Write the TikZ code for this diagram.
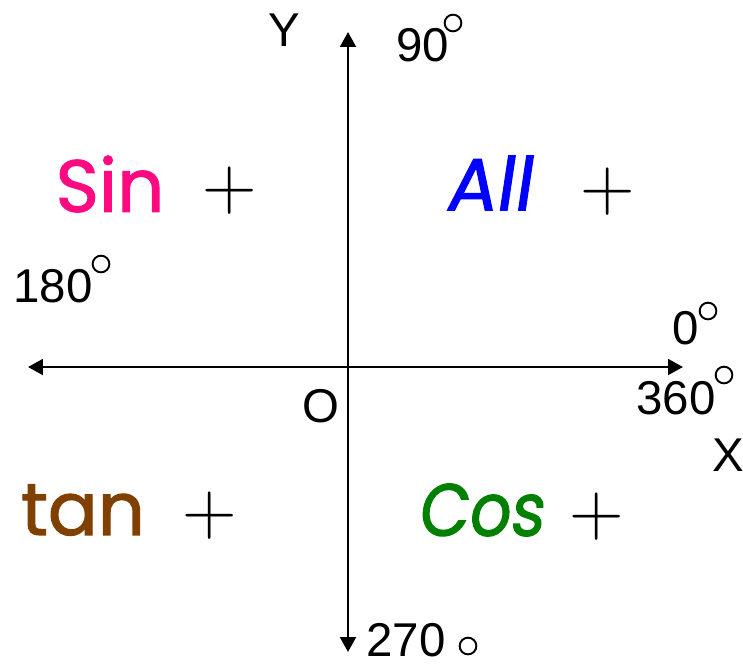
\documentclass[tikz,border=0pt]{standalone}
\usepackage{fontspec}
\setmainfont{Liberation Sans}
\newfontfamily\comic[FakeBold=1.5]{Poppins}
\newfontfamily\comicsl[FakeBold=1.5,FakeSlant=0.15]{Poppins}
\newfontfamily\plusfont{Latin Modern Roman}
\usetikzlibrary{arrows.meta}
\definecolor{sinpink}{HTML}{FF0A80}
\definecolor{allblue}{HTML}{0000FF}
\definecolor{tanbrown}{HTML}{804000}
\definecolor{cosgreen}{HTML}{008000}

\begin{document}
\begin{tikzpicture}[x=0.02cm,y=-0.02cm,
  axis/.style={line width=1.4pt,{Triangle[length=8.5pt,width=9pt]}-{Triangle[length=8.5pt,width=9pt]}},
  lbl/.style={inner sep=0,font=\fontsize{27}{27}\selectfont},
  quad/.style={inner sep=0,font=\comic\fontsize{42}{42}\selectfont},
  quadsl/.style={inner sep=0,font=\comicsl\fontsize{42}{42}\selectfont},
  plus/.style={inner sep=0,font=\plusfont\fontsize{43}{43}\selectfont},
  degc/.style={circle,draw,line width=1.1pt,inner sep=0,minimum size=9.5pt}]
\useasboundingbox (0,0) rectangle (743,664);
% axes
\coordinate (top) at (348,32);
\coordinate (bot) at (348,652);
\coordinate (left) at (28,367);
\coordinate (right) at (683,367);
\draw[axis] (bot) -- (top);
\draw[axis] (left) -- (right);
\node[lbl] (ylab) at (284,30) {Y};
\node[lbl] (xlab) at (728,455) {X};
\node[lbl] (olab) at (321,406) {O};
% angles
\node[lbl] (a90) at (423,45) {90};
\node[lbl] (a180) at (53,286) {180};
\node[lbl] (a0) at (686,328) {0};
\node[lbl] (a360) at (676,398) {360};
\node[lbl] (a270) at (406,640) {270};
\foreach \n/\x/\y in {90/453/23,180/101/264,0/708/311,360/724/375,270/468/646}
  \node[degc] (d\n) at (\x,\y) {};
% quadrants
\node[quad,sinpink] (sin) at (110,184) {Sin};
\node[quadsl,allblue] (all) at (488,183) {All};
\node[quad,tanbrown] (tan) at (83,510) {tan};
\node[quadsl,cosgreen,xscale=0.88,transform shape] (cos) at (480,510) {Cos};
\foreach \n/\x/\y in {1/230/191,2/608/192,3/210/516,4/597/517}
  \node[plus] (plus\n) at (\x,\y) {+};
\end{tikzpicture}
\end{document}
